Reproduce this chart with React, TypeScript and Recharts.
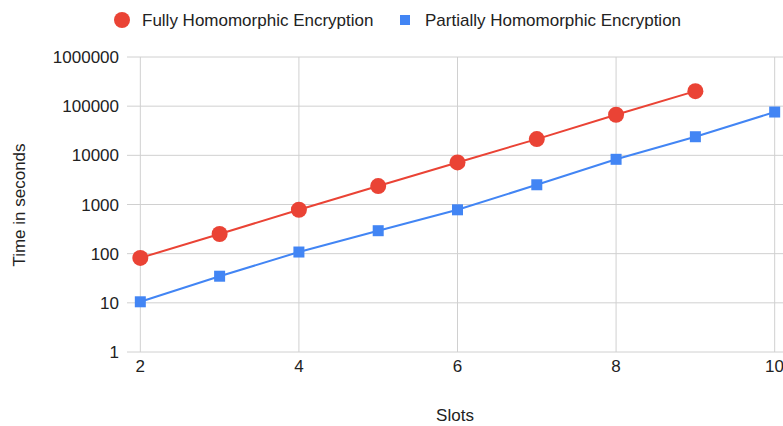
import { LineChart, Line, XAxis, YAxis, CartesianGrid, Legend } from 'recharts';

const slots = [2, 3, 4, 5, 6, 7, 8, 9, 10];
const fheSeconds = [82, 251, 781, 2370, 7160, 21400, 66800, 202000, null];
const pheSeconds = [10.5, 34.8, 108, 293, 780, 2520, 8300, 23900, 76000];
const xTicks = [2, 4, 6, 8, 10];
const yTicks = [1, 10, 100, 1000, 10000, 100000, 1000000];

const RED = '#EA4335';
const BLUE = '#4285F4';
const FONT = '"Liberation Sans", Arial, sans-serif';

const data = slots.map((s, i) => ({
    slot: s,
    fhe: fheSeconds[i],
    phe: pheSeconds[i],
}));

const SquareDot = (props: any) => {
    const { cx, cy } = props;
    if (cx == null || cy == null) return null;
    return <rect x={cx - 5.5} y={cy - 5.5} width={11} height={11} fill={BLUE} />;
};

const LegendContent = () => {
    return (
        <svg width={783} height={40} style={{ display: 'block' }}>
            <circle cx={122} cy={20} r={8} fill={RED} />
            <text x={142} y={20} dominantBaseline="central" fontSize={17} fill="#222" fontFamily={FONT}>
                Fully Homomorphic Encryption
            </text>
            <rect x={400} y={15} width={10} height={10} fill={BLUE} />
            <text x={425} y={20} dominantBaseline="central" fontSize={17} fill="#222" fontFamily={FONT}>
                Partially Homomorphic Encryption
            </text>
        </svg>
    );
};

const YLabel = () => (
    <text
        x={19}
        y={205}
        transform="rotate(-90 19 205)"
        textAnchor="middle"
        dominantBaseline="central"
        fontSize={17}
        fill="#222"
        fontFamily={FONT}
    >
        Time in seconds
    </text>
);

const App = () => {
    return (
        <div style={{ position: 'absolute', left: 0, top: 0 }}>
            <LineChart
                width={783}
                height={426}
                data={data}
                margin={{ top: 17, right: 0, left: 0, bottom: 0 }}
                style={{ fontFamily: FONT }}
            >
                <CartesianGrid stroke="#d0d0d0" horizontalValues={yTicks} verticalValues={xTicks} />
                <XAxis
                    dataKey="slot"
                    type="number"
                    domain={[1.832, 10.105]}
                    ticks={xTicks}
                    allowDataOverflow
                    axisLine={false}
                    tickLine={false}
                    height={74}
                    tick={{ fontSize: 17, fill: '#222' }}
                    label={{ value: 'Slots', position: 'insideBottom', offset: 5, fontSize: 17, fill: '#222' }}
                />
                <YAxis
                    scale="log"
                    domain={[1, 1000000]}
                    ticks={yTicks}
                    allowDataOverflow
                    axisLine={false}
                    tickLine={false}
                    width={127}
                    tick={{ fontSize: 17, fill: '#222' }}
                    label={<YLabel />}
                />
                <Legend verticalAlign="top" wrapperStyle={{ top: 0, left: 0 }} content={<LegendContent />} />
                <Line
                    dataKey="fhe"
                    stroke={RED}
                    strokeWidth={2}
                    dot={{ r: 8, fill: RED, stroke: 'none' }}
                    isAnimationActive={false}
                />
                <Line
                    dataKey="phe"
                    stroke={BLUE}
                    strokeWidth={2}
                    dot={<SquareDot />}
                    isAnimationActive={false}
                />
            </LineChart>
        </div>
    );
};

export default App;
